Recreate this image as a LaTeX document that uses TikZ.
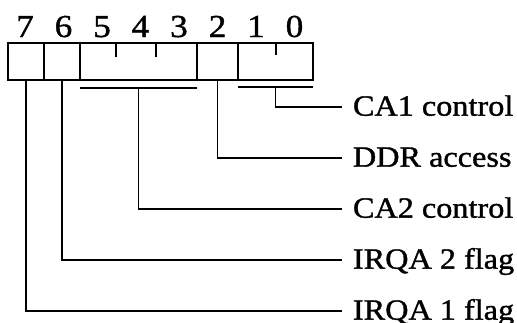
\documentclass[tikz,border=0pt]{standalone}
\usepackage{fontspec}
\setmainfont{Liberation Serif}[FakeStretch=1.1, FakeBold=1.2]
\usepackage{tikz}
\usetikzlibrary{positioning}

\tikzset{
  cell/.style={draw, line width=1.4pt, inner sep=0pt, outer sep=0pt, minimum height=27.75pt},
  bitno/.style={anchor=base, inner sep=0pt, font=\fontsize{24}{27}\selectfont},
  lbl/.style={anchor=west, inner xsep=8pt, inner ysep=0pt, text height=13pt, text depth=0pt,
    font=\fontsize{22}{25}\selectfont},
  wire/.style={line width=1.1pt}
}

\begin{document}
\begin{tikzpicture}[x=0.75pt, y=-0.75pt]
  \useasboundingbox (0,0) rectangle (517,322);
  % register cells
  \node[cell, minimum width=27pt] (b7) at (26,61.5) {};
  \node[cell, minimum width=27pt] (b6) at (62,61.5) {};
  \node[cell, minimum width=87.75pt] (b53) at (138.5,61.5) {};
  \node[cell, minimum width=30.75pt] (b2) at (217.5,61.5) {};
  \node[cell, minimum width=56.25pt] (b10) at (275.5,61.5) {};
  \draw[line width=1.3pt] (116,43) -- (116,57);
  \draw[line width=1.3pt] (156,43) -- (156,57);
  \draw[line width=1.3pt] (276,43) -- (276,55);
  % bit numbers
  \foreach \n [count=\i from 0] in {7,6,5,4,3,2,1,0}
    \node[bitno] (n\n) at (25+38.5*\i,37) {\n};
  % bars under grouped fields
  \path (b53.south) ++(0,8) coordinate (u53);
  \path (b10.south) ++(0,7) coordinate (u10);
  \draw[line width=1.3pt] (u53 -| b53.west) -- (u53 -| b53.east);
  \draw[line width=1.3pt] (u10 -| b10.west) -- (u10 -| b10.east);
  % labels
  \node[lbl] (ca1) at (342,107) {CA1 control};
  \node[lbl] (ddr) at (342,158) {DDR access};
  \node[lbl] (ca2) at (342,209) {CA2 control};
  \node[lbl] (irq2) at (342,260) {IRQA 2 flag};
  \node[lbl] (irq1) at (342,311) {IRQA 1 flag};
  % connectors
  \draw[wire] (u10) |- (ca1.west);
  \draw[wire] (b2.south) |- (ddr.west);
  \draw[wire] (u53) |- (ca2.west);
  \draw[wire] (b6.south) |- (irq2.west);
  \draw[wire] (b7.south) |- (irq1.west);
\end{tikzpicture}
\end{document}
